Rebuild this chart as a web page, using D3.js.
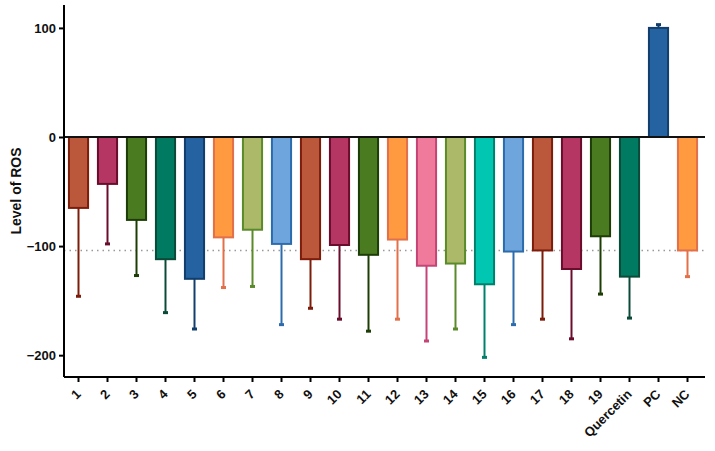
<!DOCTYPE html>
<html>
<head>
<meta charset="utf-8">
<script src="https://cdn.jsdelivr.net/npm/d3@7"></script>
<style>
  body { margin: 0; background: #fff; }
  svg text { font-family: "Liberation Sans", Arial, sans-serif; font-weight: bold; fill: #111; }
</style>
</head>
<body>
<svg id="chart" width="715" height="451"></svg>
<script>
const categories = ['1', '2', '3', '4', '5', '6', '7', '8', '9', '10', '11', '12', '13', '14', '15', '16', '17', '18', '19', 'Quercetin', 'PC', 'NC'];
const means = [-65, -43, -76, -112, -130, -92, -85, -98, -112, -99, -108, -94, -118, -116, -135, -105, -104, -121, -91, -128, 100, -104];
const errEnds = [-146, -98, -127, -161, -176, -138, -137, -172, -157, -167, -178, -167, -187, -176, -202, -172, -167, -185, -144, -166, 103, -128];
const fills = ['#bb573a', '#b53662', '#4b7b20', '#007b62', '#2462a2', '#ff9a40', '#abb968', '#6ea5dc',
  '#bb573a', '#b53662', '#4b7b20', '#ff9a40', '#f07a9c', '#abb968', '#00c6b2', '#6ea5dc',
  '#bb573a', '#b53662', '#4b7b20', '#007b62', '#2462a2', '#ff9a40'];
const strokes = ['#7c1c0a', '#6a0c2c', '#1c3e06', '#0c4a38', '#123e6c', '#e2704a', '#5a8a2a', '#2c6cac',
  '#7c1c0a', '#6a0c2c', '#1c3e06', '#e2704a', '#c44476', '#5a8a2a', '#00806c', '#2c6cac',
  '#7c1c0a', '#6a0c2c', '#1c3e06', '#0c4a38', '#123e6c', '#e2704a'];
const yTicks = [100, 0, -100, -200];
const ncLine = -104;

const svg = d3.select('#chart');
const x = d3.scaleBand().domain(categories).range([64, 702]);
const y = d3.scaleLinear().domain([-220, 121]).range([377, 5]);
const barW = x.bandwidth() * 0.66;

const data = categories.map((c, i) => ({ c, v: means[i], e: errEnds[i], fill: fills[i], stroke: strokes[i] }));

// dotted reference line (NC level)
svg.append('line')
  .attr('x1', 64).attr('x2', 705)
  .attr('y1', y(ncLine)).attr('y2', y(ncLine))
  .attr('stroke', '#999').attr('stroke-width', 1.5)
  .attr('stroke-dasharray', '1.5,4');

// error bars
const eb = svg.append('g');
eb.selectAll('line.err').data(data).join('line')
  .attr('x1', d => x(d.c) + x.bandwidth() / 2)
  .attr('x2', d => x(d.c) + x.bandwidth() / 2)
  .attr('y1', d => y(d.v))
  .attr('y2', d => y(d.e))
  .attr('stroke', d => d.stroke).attr('stroke-width', 2);
eb.selectAll('line.cap').data(data).join('line')
  .attr('x1', d => x(d.c) + x.bandwidth() / 2 - 2.5)
  .attr('x2', d => x(d.c) + x.bandwidth() / 2 + 2.5)
  .attr('y1', d => y(d.e))
  .attr('y2', d => y(d.e))
  .attr('stroke', d => d.stroke).attr('stroke-width', 3);

// bars
svg.append('g').selectAll('rect').data(data).join('rect')
  .attr('x', d => x(d.c) + (x.bandwidth() - barW) / 2)
  .attr('width', barW)
  .attr('y', d => Math.min(y(0), y(d.v)))
  .attr('height', d => Math.abs(y(d.v) - y(0)))
  .attr('fill', d => d.fill)
  .attr('stroke', d => d.stroke)
  .attr('stroke-width', 2);

// zero line
svg.append('line')
  .attr('x1', 64).attr('x2', 705)
  .attr('y1', y(0)).attr('y2', y(0))
  .attr('stroke', '#111').attr('stroke-width', 2);

// y axis
const yAxis = svg.append('g')
  .attr('transform', 'translate(64,0)')
  .call(d3.axisLeft(y).tickValues(yTicks).tickSize(5).tickPadding(3).tickFormat(d3.format('d')));
yAxis.select('.domain').attr('stroke-width', 2).attr('d', `M0,${y(121)}V${y(-220)}`);
yAxis.selectAll('.tick line').attr('stroke-width', 2);
yAxis.selectAll('.tick text').style('font-size', '13px');

// x axis
const xAxis = svg.append('g')
  .attr('transform', `translate(0,${y(-220)})`)
  .call(d3.axisBottom(x).tickSize(5).tickPadding(4));
xAxis.select('.domain').attr('stroke-width', 2).attr('d', 'M64,0H705');
xAxis.selectAll('.tick line').attr('stroke-width', 2);
xAxis.selectAll('.tick text')
  .style('font-size', '13px')
  .attr('text-anchor', 'end')
  .attr('x', 0).attr('y', 0).attr('dy', 0)
  .attr('transform', 'translate(3,18) rotate(-45)');

// y label
svg.append('text')
  .attr('transform', `translate(21,${191}) rotate(-90)`)
  .attr('text-anchor', 'middle')
  .style('font-size', '14px')
  .text('Level of ROS');
</script>
</body>
</html>
